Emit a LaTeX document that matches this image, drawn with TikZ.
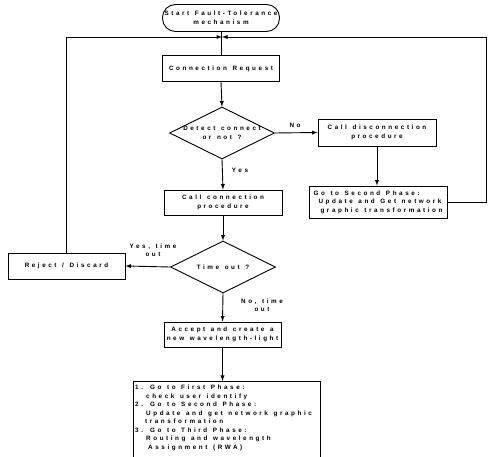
\documentclass[tikz,border=0pt]{standalone}
\usepackage{fontspec}
\setsansfont{Liberation Sans}[LetterSpace=41, WordSpace=1.3]
\usetikzlibrary{shapes.geometric}

\begin{document}
\begin{tikzpicture}[
    x=1pt, y=-1pt,
    every node/.style={font=\sffamily\bfseries\fontsize{6.3}{8.5}\selectfont},
    proc/.style={rectangle, draw, line width=0.9pt, minimum width=117pt, minimum height=26pt, align=center, inner sep=1pt},
    term/.style={rectangle, draw, line width=0.9pt, rounded corners=13pt, minimum width=117pt, minimum height=27pt, align=center, inner sep=1pt},
    dec/.style={diamond, draw, line width=0.9pt, minimum width=105pt, minimum height=52pt, inner sep=0pt},
    link/.style={-latex, line width=0.9pt},
    line/.style={line width=0.9pt}
]
\useasboundingbox (0,0) rectangle (488,457);

% Nodes
\node[term] (start) at (221,18) {Start Fault-Tolerance\\mechanism};
\node[proc] (connreq) at (221,68.5) {Connection Request};
\node[dec] (detect) at (222,133) {};
\node[align=center] at (detect) {Detect connect\\or not ?};
\node[proc, minimum width=118pt, minimum height=27pt] (disconn) at (377,132.5) {Call disconnection\\procedure};
\node[proc, minimum width=138pt, minimum height=32pt, align=left] (second) at (378,202) {Go to Second Phase:\\\hspace{5pt}Update and Get network\\\hspace{7pt}graphic transformation};
\node[proc, minimum width=118pt, minimum height=25pt] (callconn) at (223,202.5) {Call connection\\procedure};
\node[dec] (timeout) at (223,267) {};
\node at (timeout) {Time out ?};
\node[proc] (reject) at (66.5,266) {Reject / Discard};
\node[proc, minimum height=25pt] (accept) at (222.5,334.5) {Accept and create a\\new wavelength-light};
\node[proc, anchor=north west, minimum width=187pt, minimum height=85pt] (phases) at (133,381) {};
\node[anchor=north west, align=left, inner sep=0pt] (phasetext) at (135,385) {1. Go to First Phase:\\\hspace{11pt}check user identify\\2. Go to Second Phase:\\\hspace{11pt}Update and get network graphic\\\hspace{10pt}transformation\\3. Go to Third Phase:\\\hspace{11pt}Routing and wavelength\\\hspace{13pt}Assignment (RWA)};

% Labels
\node (nolbl) at (295,125) {No};
\node (yeslbl) at (240,170) {Yes};
\node[align=center] (yestime) at (153,250) {Yes, time\\out};
\node[align=center] (notime) at (262,305) {No, time\\out};

% Connections
\coordinate (merge) at (222,37);
\draw[line] (start.south) -- (connreq.north);
\draw[link] (connreq.south) -- (detect.north);
\draw[link] (detect.east) -- (disconn.west);
\draw[link] (detect.south) -- (callconn.north);
\draw[link] (disconn.south) -- (second.north -| disconn.south);
\draw[link] (callconn.south) -- (timeout.north);
\draw[link] (timeout.west) -- (reject.east);
\draw[link] (timeout.south) -- (accept.north);
\draw[link] (accept.south) -- (phases.north -| accept.south);
\draw[link] (reject.north) |- (merge);
\draw[link] (second.east) -- (486,202) |- (merge);

\end{tikzpicture}
\end{document}
